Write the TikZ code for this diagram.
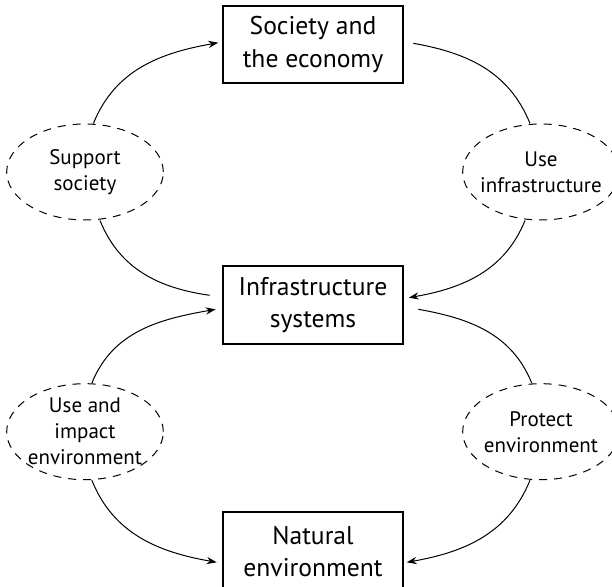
\documentclass[tikz,border=0pt]{standalone}
\usepackage{fontspec}
\setmainfont{PT Sans}
\usepackage{tikz}
\usetikzlibrary{shapes,arrows.meta,positioning}
\tikzstyle{sysbox} = [rectangle, draw=black, line width=1pt, text centered, align=center, font=\fontsize{12.8}{16.2}\selectfont, minimum width=90.3pt, minimum height=38.8pt, inner sep=0pt]
\tikzstyle{act} = [ellipse, draw=black, dashed, dash pattern=on 4pt off 3.5pt, line width=0.5pt, text centered, align=center, font=\fontsize{10.5}{13}\selectfont, minimum width=78.3pt, minimum height=48pt, inner xsep=-6pt, inner ysep=-4pt]
\tikzstyle{tedge} = [draw, line width=0.5pt, >={Stealth[length=5pt,width=3.6pt]}]

\begin{document}
\begin{tikzpicture}[auto]
\useasboundingbox (0pt,0pt) rectangle (306pt,-293.5pt);

% systems =============================
\node[sysbox] (soc) at (156.5pt,-22.25pt) {Society and\\the economy};
\node[sysbox, below=90.6pt of soc] (infra) {Infrastructure\\systems};
\node[sysbox, below=83.2pt of infra] (nat) {Natural\\environment};

% activities =============================
\node[act] (sup) at (42.5pt,-86pt) {Support\\society};
\node[act] (useinf) at (270.5pt,-86pt) {Use\\infrastructure};
\node[act] (useimp) at (42.5pt,-215.85pt) {Use and\\impact\\environment};
\node[act] (prot) at (270.5pt,-215.85pt) {Protect\\environment};

% edges =============================
\path[tedge, ->] ([xshift=4.2pt]sup.north) to[out=68, in=190] ([xshift=-1.7pt, yshift=0.9pt]soc.west);
\path[tedge] ([xshift=4.5pt, yshift=0.6pt]soc.east) to[out=-10, in=112] ([xshift=-5.5pt]useinf.north);
\path[tedge] ([xshift=7.5pt]sup.south) to[out=-68, in=172] ([xshift=-6pt, yshift=5pt]infra.west);
\path[tedge, ->] ([xshift=-8pt]useinf.south) to[out=-112, in=10] ([xshift=2.2pt, yshift=3.8pt]infra.east);
\path[tedge, ->] ([xshift=3.4pt]useimp.north) to[out=68, in=190] ([xshift=-3pt, yshift=-2pt]infra.west);
\path[tedge] ([xshift=7pt, yshift=-2pt]infra.east) to[out=-10, in=112] ([xshift=-4.6pt]prot.north);
\path[tedge, ->] ([xshift=3.4pt]useimp.south) to[out=-68, in=170] ([xshift=-2.5pt, yshift=-5.5pt]nat.west);
\path[tedge, ->] ([xshift=-5.5pt]prot.south) to[out=-112, in=10] ([xshift=1.2pt, yshift=-5.5pt]nat.east);

\end{tikzpicture}
\end{document}
